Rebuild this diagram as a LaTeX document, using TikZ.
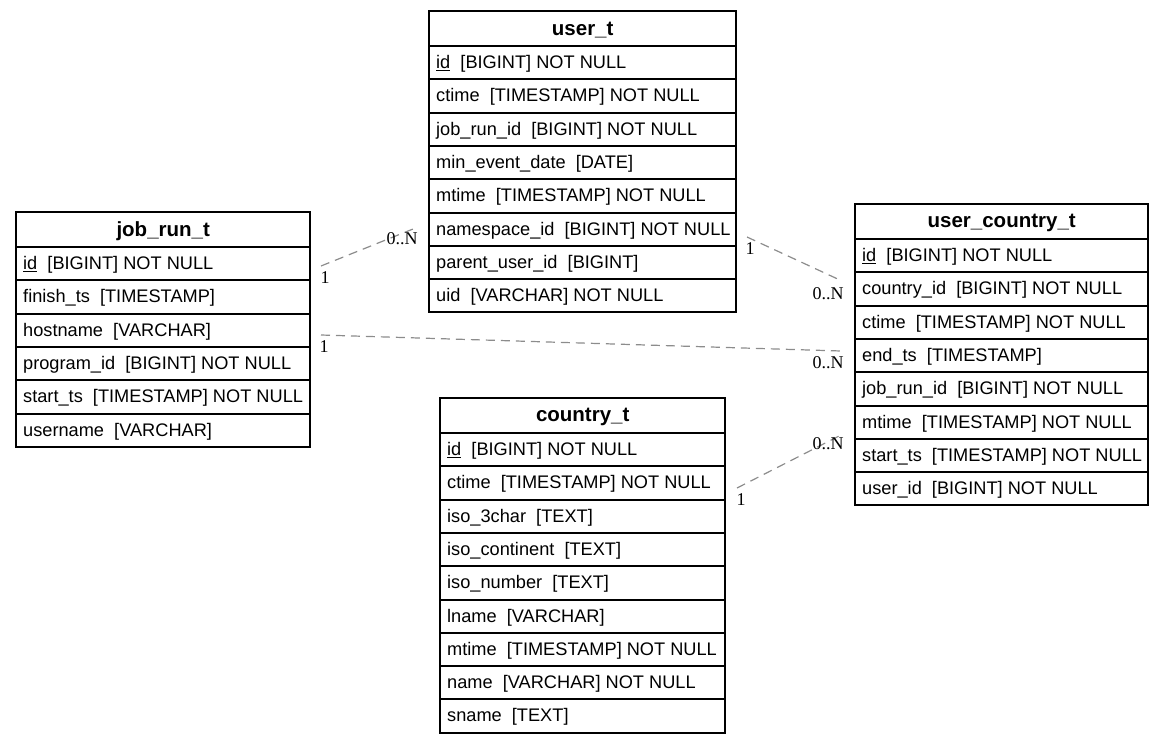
\documentclass[tikz,border=0pt]{standalone}
\usepackage{fontspec}
\setmainfont{Liberation Sans}
\newfontfamily\lblfont{Liberation Serif}
\begin{document}
\begin{tikzpicture}[x=1pt,y=-1pt,
  border/.style={line width=1.8pt},
  hdrbox/.style={minimum height=35pt, inner sep=0pt, anchor=north west},
  hdrtext/.style={inner sep=0pt, yshift=-1.5pt, font=\fontsize{20.5}{24}\selectfont\bfseries},
  rowbox/.style={minimum height=33pt, inner sep=0pt, anchor=north west},
  rowtext/.style={anchor=west, inner sep=0pt, xshift=7pt, yshift=-1pt, font=\fontsize{18.2}{22}\selectfont},
  rel/.style={draw=gray!90, line width=1.2pt, dash pattern=on 9pt off 6pt},
  card/.style={font=\lblfont\fontsize{18}{22}\selectfont, inner sep=0pt}]
\useasboundingbox (0,0) rectangle (1165,744);
\newcommand\ertable[6]{% name, x, y, width, title, number of rows
  \node[hdrbox, minimum width=#4] (#1-h) at (#2,#3) {};
  \node[hdrtext] (#1-ht) at (#1-h.center) {#5};
  \pgfmathsetmacro\ybot{round(#3+35+#6*33.3)}
  \draw[border] (#2,#3) rectangle ({#2+#4},\ybot);
}
\newcommand\errows[5]{%
  \foreach \t [count=\i] in {#5} {
    \pgfmathsetmacro\yy{round(#3+35+(\i-1)*33.3)}
    \node[rowbox, minimum width=#4] (#1-\i) at ({#2},\yy) {};
    \draw[border] (#1-\i.north west) -- (#1-\i.north east);
    \node[rowtext] (#1-\i-t) at (#1-\i.west) {\t};
  }
}
% job_run_t
\ertable{jr}{16}{212}{294}{job\_run\_t}{6}
\errows{jr}{16}{212}{294}{{\underline{id}~\ [BIGINT] NOT NULL},{finish\_ts~\ [TIMESTAMP]},{hostname~\ [VARCHAR]},{program\_id~\ [BIGINT] NOT NULL},{start\_ts~\ [TIMESTAMP] NOT NULL},{username~\ [VARCHAR]}}
% user_t
\ertable{ut}{429}{11}{307}{user\_t}{8}
\errows{ut}{429}{11}{307}{{\underline{id}~\ [BIGINT] NOT NULL},{ctime~\ [TIMESTAMP] NOT NULL},{job\_run\_id~\ [BIGINT] NOT NULL},{min\_event\_date~\ [DATE]},{mtime~\ [TIMESTAMP] NOT NULL},{namespace\_id~\ [BIGINT] NOT NULL},{parent\_user\_id~\ [BIGINT]},{uid~\ [VARCHAR] NOT NULL}}
% user_country_t
\ertable{uc}{855}{204}{293}{user\_country\_t}{8}
\errows{uc}{855}{204}{293}{{\underline{id}~\ [BIGINT] NOT NULL},{country\_id~\ [BIGINT] NOT NULL},{ctime~\ [TIMESTAMP] NOT NULL},{end\_ts~\ [TIMESTAMP]},{job\_run\_id~\ [BIGINT] NOT NULL},{mtime~\ [TIMESTAMP] NOT NULL},{start\_ts~\ [TIMESTAMP] NOT NULL},{user\_id~\ [BIGINT] NOT NULL}}
% country_t
\ertable{ct}{440}{398}{285}{country\_t}{9}
\errows{ct}{440}{398}{285}{{\underline{id}~\ [BIGINT] NOT NULL},{ctime~\ [TIMESTAMP] NOT NULL},{iso\_3char~\ [TEXT]},{iso\_continent~\ [TEXT]},{iso\_number~\ [TEXT]},{lname~\ [VARCHAR]},{mtime~\ [TIMESTAMP] NOT NULL},{name~\ [VARCHAR] NOT NULL},{sname~\ [TEXT]}}
% connector end points
\coordinate (e1a) at (321,266); \coordinate (e1b) at (418,227);
\coordinate (e2a) at (747,237); \coordinate (e2b) at (842,281);
\coordinate (e3a) at (321,335); \coordinate (e3b) at (841,351);
\coordinate (e4a) at (737,488); \coordinate (e4b) at (843,434);
\draw[rel] (e1a) -- (e1b);
\draw[rel] (e2a) -- (e2b);
\draw[rel] (e3a) -- (e3b);
\draw[rel] (e4a) -- (e4b);
\node[card] (l1a) at (325,278) {1};
\node[card] (l1b) at (402,239) {0..N};
\node[card] (l2a) at (750,249) {1};
\node[card] (l2b) at (828,294) {0..N};
\node[card] (l3a) at (324,347) {1};
\node[card] (l3b) at (828,363) {0..N};
\node[card] (l4a) at (741,500) {1};
\node[card] (l4b) at (828,444) {0..N};
\end{tikzpicture}
\end{document}
